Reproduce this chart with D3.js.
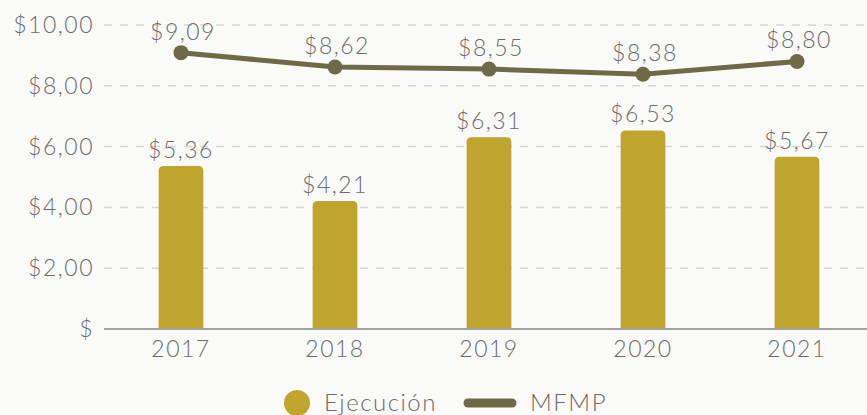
<!DOCTYPE html>
<html>
<head>
    <meta charset="utf-8">
    <title>Ejecución vs MFMP</title>
    <script src="https://d3js.org/d3.v7.min.js"></script>
    <style>
        body { margin: 0; background: #fafaf8; }
        text { font-family: Lato, "Open Sans", sans-serif; font-weight: 300; fill: #6c6c6c; letter-spacing: 1.5px; }
    </style>
</head>
<body>
    <div id="chart"></div>

    <script>
        // Data
        var years = ['2017', '2018', '2019', '2020', '2021'];
        var ejecucion = [5.36, 4.21, 6.31, 6.53, 5.67];
        var mfmp = [9.09, 8.62, 8.55, 8.38, 8.80];
        var yTicks = [0, 2, 4, 6, 8, 10];
        var yTickLabels = ['$', '$2,00', '$4,00', '$6,00', '$8,00', '$10,00'];
        var seriesNames = ['Ejecución', 'MFMP'];

        var W = 867, H = 415;
        var barColor = '#bfa52e';
        var lineColor = '#6e6a48';

        var svg = d3.select('#chart').append('svg')
            .attr('width', W)
            .attr('height', H);

        var x = d3.scaleBand()
            .domain(years)
            .range([104, 874])
            .paddingInner(0.71)
            .paddingOuter(0.355);

        var y = d3.scaleLinear()
            .domain([0, 10])
            .range([329, 25]);

        function money(v) { return '$' + v.toFixed(2).replace('.', ','); }

        // gridlines
        svg.append('g').selectAll('line')
            .data(yTicks.filter(function(d) { return d > 0; }))
            .enter().append('line')
            .attr('x1', 104).attr('x2', W)
            .attr('y1', function(d) { return y(d); })
            .attr('y2', function(d) { return y(d); })
            .attr('stroke', '#d6d6d4')
            .attr('stroke-width', 1.5)
            .attr('stroke-dasharray', '8,8');

        // y tick labels
        svg.append('g').selectAll('text')
            .data(yTicks)
            .enter().append('text')
            .attr('x', 94)
            .attr('y', function(d) { return y(d) + 8; })
            .attr('text-anchor', 'end')
            .style('font-size', '23px')
            .text(function(d, i) { return yTickLabels[i]; });

        // bars with rounded top corners
        var r = 5;
        svg.append('g').selectAll('path')
            .data(ejecucion)
            .enter().append('path')
            .attr('fill', barColor)
            .attr('d', function(d, i) {
                var x0 = x(years[i]), w = x.bandwidth(), top = y(d), base = y(0);
                return 'M' + x0 + ',' + base +
                    'V' + (top + r) +
                    'Q' + x0 + ',' + top + ' ' + (x0 + r) + ',' + top +
                    'H' + (x0 + w - r) +
                    'Q' + (x0 + w) + ',' + top + ' ' + (x0 + w) + ',' + (top + r) +
                    'V' + base + 'Z';
            });

        // bar labels
        svg.append('g').selectAll('text')
            .data(ejecucion)
            .enter().append('text')
            .attr('x', function(d, i) { return x(years[i]) + x.bandwidth() / 2; })
            .attr('y', function(d) { return y(d) - 8; })
            .attr('text-anchor', 'middle')
            .style('font-size', '23px')
            .text(money);

        // x axis line
        svg.append('line')
            .attr('x1', 104).attr('x2', W)
            .attr('y1', y(0)).attr('y2', y(0))
            .attr('stroke', '#a3a3a3')
            .attr('stroke-width', 2);

        // x labels
        svg.append('g').selectAll('text')
            .data(years)
            .enter().append('text')
            .attr('x', function(d) { return x(d) + x.bandwidth() / 2; })
            .attr('y', 357)
            .attr('text-anchor', 'middle')
            .style('font-size', '23px')
            .text(function(d) { return d; });

        // MFMP line
        var line = d3.line()
            .x(function(d, i) { return x(years[i]) + x.bandwidth() / 2; })
            .y(function(d) { return y(d); });

        svg.append('path')
            .datum(mfmp)
            .attr('fill', 'none')
            .attr('stroke', lineColor)
            .attr('stroke-width', 5)
            .attr('d', line);

        svg.append('g').selectAll('circle')
            .data(mfmp)
            .enter().append('circle')
            .attr('cx', function(d, i) { return x(years[i]) + x.bandwidth() / 2; })
            .attr('cy', function(d) { return y(d); })
            .attr('r', 7.5)
            .attr('fill', lineColor);

        svg.append('g').selectAll('text')
            .data(mfmp)
            .enter().append('text')
            .attr('x', function(d, i) { return x(years[i]) + x.bandwidth() / 2 + 2; })
            .attr('y', function(d) { return y(d) - 13; })
            .attr('text-anchor', 'middle')
            .style('font-size', '23px')
            .text(money);

        // legend
        var legend = svg.append('g');
        legend.append('circle')
            .attr('cx', 297).attr('cy', 403).attr('r', 13)
            .attr('fill', barColor);
        legend.append('text')
            .attr('x', 324).attr('y', 411)
            .style('font-size', '24px')
            .text(seriesNames[0]);
        legend.append('line')
            .attr('x1', 468).attr('x2', 512)
            .attr('y1', 403).attr('y2', 403)
            .attr('stroke', lineColor)
            .attr('stroke-width', 9)
            .attr('stroke-linecap', 'round');
        legend.append('text')
            .attr('x', 530).attr('y', 411)
            .style('font-size', '24px')
            .text(seriesNames[1]);
    </script>
</body>
</html>
